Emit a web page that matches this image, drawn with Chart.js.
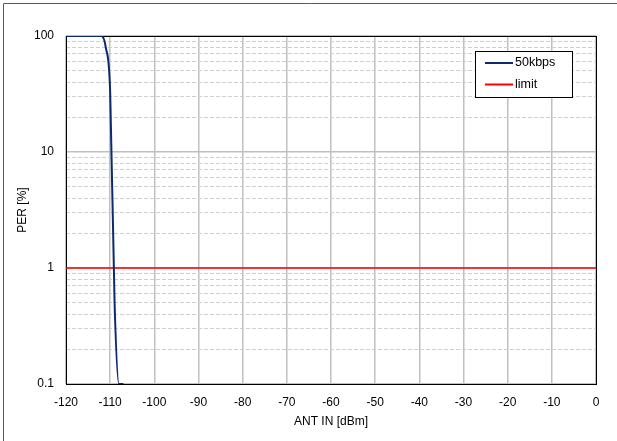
<!DOCTYPE html>
<html lang="en">
<head>
  <meta charset="UTF-8">
  <title>PER vs ANT IN</title>
  <style>
    body { margin: 0; background: #ffffff; }
    #perChart { display: block; }
  </style>
</head>
<body>
<canvas id="perChart" width="617" height="441"></canvas>

<script src="https://cdn.jsdelivr.net/npm/chart.js"></script>
<script>
  // data
  const antIn = [-120, -119, -118, -117, -116, -115, -114, -113, -112, -111, -110, -109, -108, -107];
  const per50kbps = [100, 100, 100, 100, 100, 100, 100, 100, 100, 80, 33, 0.5, 0.1, 0.1];
  const limitX = [-120, 0];
  const limitY = [1, 1];

  const xTicks = [-120, -110, -100, -90, -80, -70, -60, -50, -40, -30, -20, -10, 0];
  const yMajor = [0.1, 1, 10, 100];

  // minor ticks 2..9 of each decade
  const yTicks = [];
  yMajor.forEach((d, i) => {
    yTicks.push(d);
    if (i < yMajor.length - 1) {
      for (let m = 2; m <= 9; m++) yTicks.push(Math.round(d * m * 1000) / 1000);
    }
  });

  const font = { family: 'Arial, "Liberation Sans", sans-serif', size: 12 };

  const isMajorY = v => yMajor.some(m => Math.abs(m - v) < 1e-9);

  const frame = {
    id: 'frame',
    beforeDraw(chart) {
      const c = chart.ctx;
      c.save();
      c.fillStyle = '#ffffff';
      c.fillRect(0, 0, chart.width, chart.height);
      c.strokeStyle = '#595959';
      c.lineWidth = 1;
      c.beginPath();
      c.moveTo(3.5, chart.height + 5);
      c.lineTo(3.5, 3.5);
      c.lineTo(chart.width + 5, 3.5);
      c.stroke();
      c.restore();
    },
    beforeDatasetsDraw(chart) {
      const a = chart.chartArea;
      const c = chart.ctx;
      c.save();
      c.strokeStyle = '#000000';
      c.lineWidth = 1;
      c.strokeRect(Math.round(a.left) + 0.5, Math.round(a.top) + 0.5,
        Math.round(a.right - a.left), Math.round(a.bottom - a.top));
      c.restore();
    },
    afterDraw(chart) {
      // legend box inside the plot
      const c = chart.ctx;
      const bx = 475.5, by = 51.5, bw = 97, bh = 46;
      c.save();
      c.fillStyle = '#ffffff';
      c.fillRect(bx, by, bw, bh);
      c.strokeStyle = '#000000';
      c.lineWidth = 1;
      c.strokeRect(bx, by, bw, bh);
      c.font = '12.5px ' + font.family;
      c.textBaseline = 'middle';
      chart.data.datasets.forEach((ds, i) => {
        const y = 63 + i * 21.5;
        c.strokeStyle = ds.borderColor;
        c.lineWidth = 2;
        c.beginPath();
        c.moveTo(485, y);
        c.lineTo(513, y);
        c.stroke();
        c.fillStyle = '#000000';
        c.fillText(ds.label, 515, y);
      });
      c.restore();
    }
  };

  new Chart(document.getElementById('perChart'), {
    type: 'line',
    data: {
      datasets: [
        {
          label: '50kbps',
          data: antIn.map((x, i) => ({ x, y: per50kbps[i] })),
          borderColor: '#0b2a6f',
          borderWidth: 2,
          pointRadius: 0,
          cubicInterpolationMode: 'monotone',
          fill: false
        },
        {
          label: 'limit',
          data: limitX.map((x, i) => ({ x, y: limitY[i] })),
          borderColor: '#ff0000',
          borderWidth: 1.5,
          pointRadius: 0,
          fill: false
        }
      ]
    },
    options: {
      responsive: false,
      animation: false,
      layout: { padding: { top: 36, right: 21, left: 0, bottom: 0 } },
      plugins: {
        legend: { display: false },
        tooltip: { enabled: false }
      },
      scales: {
        x: {
          type: 'linear',
          min: -120,
          max: 0,
          afterBuildTicks: s => { s.ticks = xTicks.map(v => ({ value: v })); },
          afterFit: s => { s.height = 57; },
          ticks: { font, color: '#000000', padding: 11, maxRotation: 0, autoSkip: false },
          grid: { color: '#c0c0c0', lineWidth: 1.5, drawTicks: false },
          border: { display: false },
          title: { display: true, text: 'ANT IN [dBm]', font, color: '#000000', padding: { top: 4, bottom: 12 } }
        },
        y: {
          type: 'logarithmic',
          min: 0.1,
          max: 100,
          afterBuildTicks: s => { s.ticks = yTicks.map(v => ({ value: v, major: isMajorY(v) })); },
          afterFit: s => { s.width = 66; },
          ticks: {
            font, color: '#000000', padding: 12, autoSkip: false,
            callback: v => isMajorY(v) ? String(v) : ''
          },
          grid: {
            drawTicks: false,
            color: ctx => ctx.tick && isMajorY(ctx.tick.value) ? '#bfbfbf' : '#cfcfcf',
            lineWidth: ctx => ctx.tick && isMajorY(ctx.tick.value) ? 1.5 : 1
          },
          border: {
            display: false,
            dash: ctx => (ctx.tick && !isMajorY(ctx.tick.value)) ? [4, 2] : []
          },
          title: { display: true, text: 'PER [%]', font, color: '#000000', padding: { top: 15, bottom: 0 } }
        }
      }
    },
    plugins: [frame]
  });
</script>
</body>
</html>
